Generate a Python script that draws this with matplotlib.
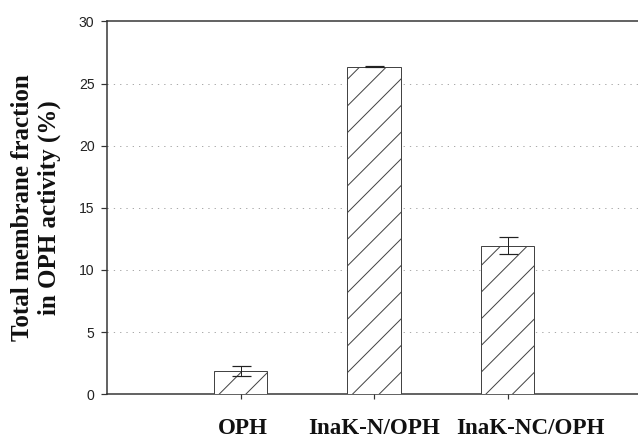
import matplotlib
matplotlib.use("Agg")
import matplotlib.pyplot as plt
import matplotlib.transforms as mtransforms

categories = ["OPH", "InaK-N/OPH", "InaK-NC/OPH"]
values = [1.87, 26.35, 11.95]
errors = [0.42, 0.05, 0.68]
yticks = [0, 5, 10, 15, 20, 25, 30]

DPI = 160
PX = 72.0 / DPI  # points per pixel

plt.rcParams['hatch.linewidth'] = 1.0 * PX
fig = plt.figure(figsize=(638 / DPI, 439 / DPI), dpi=DPI)
ax = fig.add_axes([107 / 638, 1 - 394.3 / 439, (641 - 107) / 638, (394.3 - 21.4) / 439])

x = [1, 2, 3]
ax.bar(x, values, width=0.40, color='white', edgecolor='#444444', linewidth=1.0 * PX,
       hatch='//', zorder=3)
ax.errorbar(x, values, yerr=errors, fmt='none', ecolor='#222222', elinewidth=1.0 * PX,
            capsize=9.5 * PX, capthick=1.2 * PX, zorder=4)

ax.set_xlim(0, 4)
ax.set_ylim(0, 30)
ax.set_yticks(yticks)
ax.set_yticklabels([str(t) for t in yticks], fontfamily='Liberation Sans', fontsize=14 * PX,
                   color='#222222')
ax.set_xticks(x)
ax.set_xticklabels(categories, fontfamily='Liberation Serif', fontweight='bold',
                   fontsize=23 * PX, color='#111111')
ax.tick_params(axis='y', direction='out', length=6 * PX, width=1.2 * PX, pad=6.5 * PX,
               color='#333333')
ax.tick_params(axis='x', direction='out', length=5 * PX, width=1.2 * PX, pad=19 * PX,
               color='#333333')

# the original figure places the labels slightly off the tick centres
label_shift_px = [2, 0, 22.5]
for lab, dx in zip(ax.get_xticklabels(), label_shift_px):
    lab.set_transform(lab.get_transform() +
                      mtransforms.ScaledTranslation(dx / DPI, 0, fig.dpi_scale_trans))

for t in [5, 10, 15, 20, 25]:
    ax.axhline(t, color='#aaaaaa', linestyle=(0, (1.3, 5)), linewidth=1.0 * PX, zorder=1)

ax.spines['right'].set_visible(False)
for s in ['left', 'bottom', 'top']:
    ax.spines[s].set_linewidth(1.5 * PX)
    ax.spines[s].set_color('#333333')

fig.text(36 / 638, 1 - 207.5 / 439, "Total membrane fraction\nin OPH activity (%)",
         rotation=90, ha='center', va='center', fontfamily='Liberation Serif',
         fontweight='bold', fontsize=25 * PX, linespacing=1.2, color='#111111')

fig.savefig("out.png", dpi=DPI)
